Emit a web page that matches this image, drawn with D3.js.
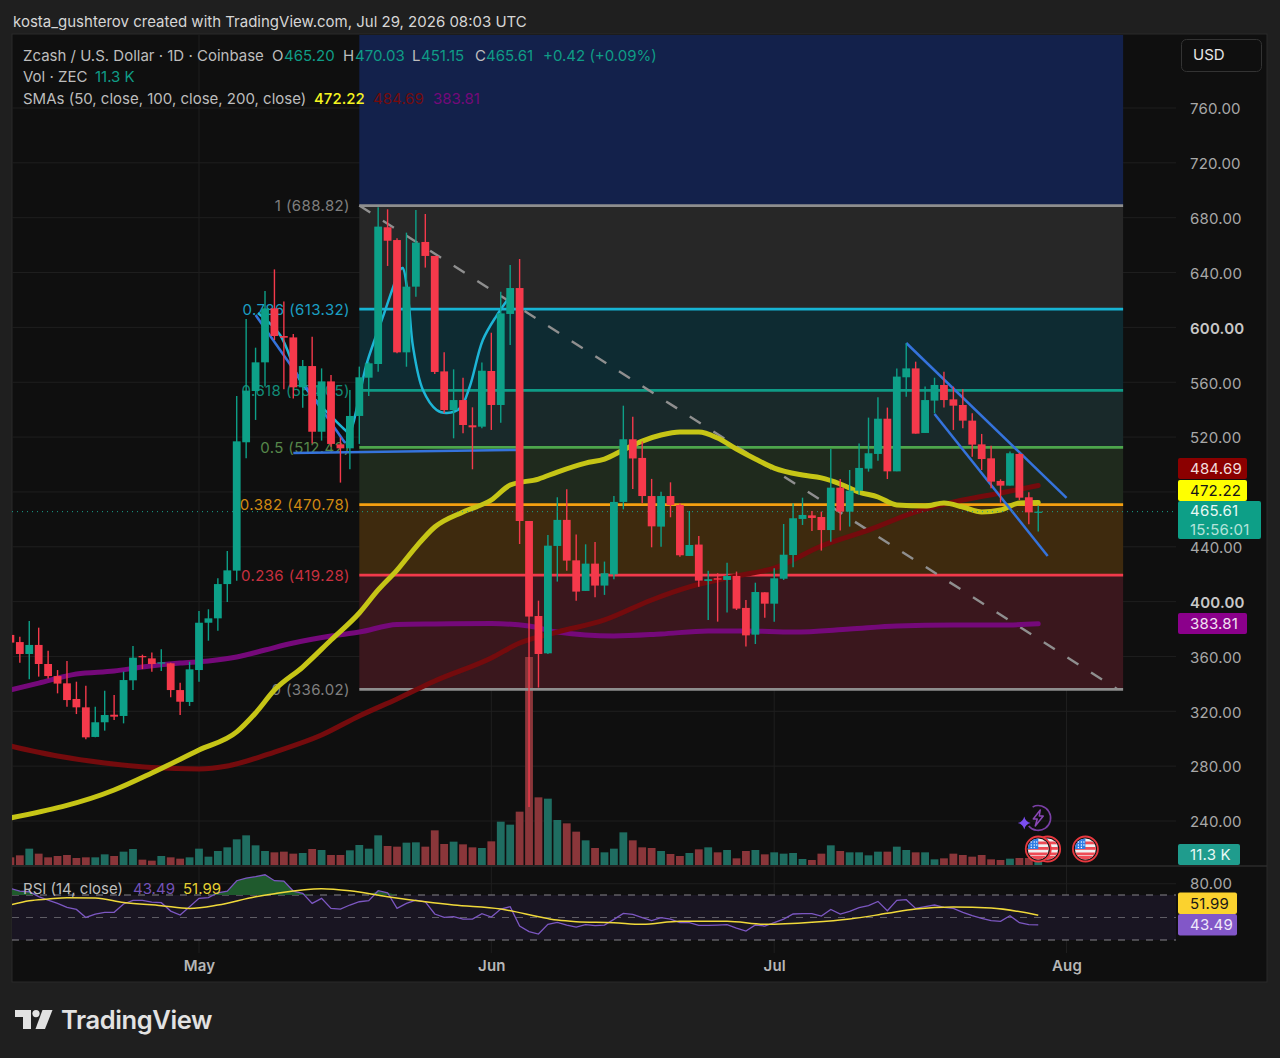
<!DOCTYPE html>
<html>
<head>
<meta charset="utf-8">
<title>Zcash / U.S. Dollar</title>
<script src="https://cdn.jsdelivr.net/npm/d3@7/dist/d3.min.js"></script>
<style>
html,body{margin:0;padding:0;background:#1f1f1f;}
svg{display:block;}
text{font-family:Inter,"Noto Sans",Roboto,sans-serif;}
</style>
</head>
<body>
<svg id="chart" width="1280" height="1058"></svg>
<script>
// Daily ZEC/USD session values, first session 2026-04-11.
const firstSession = Date.UTC(2026, 3, 11);
const opens = [
375.7,370.5,361.8,368.4,354.5,345.7,340.4,329,322.9,301.3,
312,317.5,316.6,342.6,360.3,358.6,355,355,335.5,326.8,
350.1,384.6,387.8,412.8,422.6,516.2,553.6,574.5,613.9,593.7,
592.7,556.3,571.8,523.9,560.6,514.7,511.8,535.4,563.3,573.3,
673,663.7,581.8,629.7,662.3,652.1,567.9,539.7,547,528.6,
527.6,568.2,543.4,609.8,628.7,458.8,389.5,362.3,440.6,459.6,
430.1,407.8,427.7,411.7,419.9,472.7,518.4,504.8,477,454.7,
477,470.5,433.3,441.6,415.1,417,415.8,418.7,395.4,375.9,
406.8,398.5,416.7,434,460.3,462.9,461.7,452.2,483.1,465.6,
480.9,497,507.7,533.4,495,563.6,570.1,523,546.6,558,
547.5,543.4,532,514.7,504.5,488,484.6,507.7,476.1,465.2];
const highs = [
378,374.4,385.9,381,364.2,350.1,356.7,341.6,338.7,323.4,
335,331.9,348.9,367.6,361.3,362.8,365.2,355.5,340.9,356.2,
393.2,394.4,417,436.9,550,606.1,585.2,626.5,642.3,618.8,
595.2,576.2,593.2,570.1,565.3,519.8,554.3,571.4,575,687.6,
686.1,665,669.1,685.6,682.7,652.1,581.8,569.4,563.3,541.7,
574.3,596.1,626,645.5,649.9,458.8,400.7,448.6,476.1,481.9,
448.9,441.8,443.5,429.2,477.1,542.9,534.9,516.7,489.5,480.2,
487,471.7,466.1,447.9,422.6,420.7,428.4,421.9,401.2,413.8,
406.8,424.3,456.6,471.7,475.8,466.1,465.6,511.3,489.4,496,
515.4,534.2,549,541.5,570.1,588.4,575,556.8,563.3,567.7,
556.8,554.8,537.3,522.3,513.7,489.2,509.4,508.6,479.7,470.03];
const lows = [
369,355.5,343.3,345.3,344,333.1,323.4,318,299.6,301,
305.9,313.7,311.2,335.5,350.8,348.9,349.4,330.2,317.3,323.9,
341.6,371.5,378.8,399.7,415.3,504.5,532.5,556.8,590.8,554.8,
548.2,541.4,515.4,517.4,513,486.8,496.5,515,550,567.7,
644.8,581.1,571.3,622.4,643.6,566,537.3,519.1,522.7,496.5,
526.4,525.2,530.5,587.2,442,250.2,337.3,361.8,414.6,422.6,
400.7,407.8,403.2,404.9,416.3,467.3,482.2,471.7,439.6,440.1,
461.5,432.8,433.3,410.9,386.6,385.4,392,393.9,367.2,369.1,
388.3,385.4,415.8,425,455.9,451.5,437.2,443.7,451.8,454.7,
477.8,494.8,502.8,489.4,495,549.5,522.5,523,537.3,541.5,
525.2,526.4,505.7,496,482.6,472.2,484.6,474.1,456.4,451.15];
const closes = [
370.1,361.8,368.4,354.5,345.7,340.2,328.2,322.9,301,312,
317.3,316.1,342.8,359.1,359.4,354.5,355.7,335.5,327,350.6,
384.6,387.8,412.8,422.8,516.9,553.9,574.5,613.9,593.7,592.5,
556.3,571.8,523.9,560.6,515,511.8,535.4,563.6,573.8,673.5,
663.2,581.8,629.7,661.8,652.1,567.5,539.7,547,528.8,527.1,
568.4,543.4,610.2,628.7,458.8,389.1,361.8,440.8,459.6,429.9,
407.3,427.7,411.7,420.7,472.7,518.4,504.4,477,454.9,477,
470.5,433.8,441.3,415.3,416.3,416,418.7,394.9,375.4,407,
398.5,417,434.2,460.8,463.2,461,452.2,483.1,465.6,480.9,
497.5,508.2,533.4,495,564.1,570.1,522.5,547,558,547,
542.9,532,514.5,504,487.5,484.6,508.2,475.8,465.1,465.61];
// Volume in thousands of ZEC.
const volumes = [
23,29,49,34,23,27,30,21,23,23,
32,27,40,48,16,13,27,23,19,23,
49,25,42,53,77,89,59,42,38,40,
34,36,48,45,30,30,44,60,49,89,
57,55,67,68,55,104,63,70,62,53,
51,71,130,121,160,624,203,199,135,125,
100,74,51,38,49,98,74,53,51,42,
33,27,36,47,53,38,45,20,42,45,
32,38,34,36,18,15,34,59,42,38,
38,29,40,40,55,45,38,38,17,20,
34,30,25,30,17,15,19,21,21,11.3];
const rsiValues = [
75.9,73.5,72.9,68.5,65.5,62.6,59,57.2,50.1,53.1,
54.6,54.6,62,65.2,65.2,63.7,63.2,55.7,52.2,59.6,
67,67.6,72,73.5,82.7,85.1,86.3,88,82.7,82.4,
73.5,71.4,62.6,67,58.1,57.5,61.1,64,64.9,73.8,
72,58.1,62.6,65.5,64,53.1,50.1,50.7,48.6,48.6,
53.4,50.4,57.5,59.6,42.4,37.4,35.3,43.9,45.7,43.3,
41.5,43.6,42.7,43.3,48.3,53.7,52.8,49.8,47.2,49.8,
48.6,45.4,45.4,43,43,43.3,43.6,40.6,38,43.3,
42.4,45.4,48.6,53.1,53.4,53.4,51.3,57.2,53.1,55.4,
58.7,60.5,64.3,56,65.2,65.8,58.1,59.6,61.1,59,
58.1,54.6,51.6,49.2,47.2,46.6,51.6,45.4,43.6,43.49];

// Averages as [days since May 1, value] pairs.
const sma50 = [[-20,242.2],[-9,262.6],[-5,275],[0,291.8],[4,305],[6,318.8],[8,335.5],[11,352.3],[14,372],[17,391.7],[19,408.5],[21,423],[23,439.8],[25,454.4],[28,465.4],[31,474.1],[33,485],[36,489.4],[38,494.5],[41,501],[43,504],[45,510.6],[47,517.1],[49,521.5],[51,523.7],[53,523.7],[55,519.3],[57,511.3],[59,504],[61,497.4],[64,492.3],[66,490.2],[68,485.8],[70,479.9],[72,476.3],[74,470.5],[77,469.7],[79,471.9],[81,469],[83,465.4],[85,466.8],[87,471.9],[89,472.22]];
const sma100 = [[-20,294.7],[-15,287.4],[-10,282.3],[-5,279],[0,278],[3,280.1],[8,290.3],[13,302.7],[17,316.6],[21,329],[25,342.1],[31,358.9],[34,369.8],[38,377.8],[43,386.6],[48,401.2],[52,410.7],[57,418.7],[61,424.5],[66,440.6],[71,452.2],[76,465.4],[81,474.1],[85,479.2],[89,484.69]];
const sma200 = [[-20,335.6],[-17,340.6],[-13,347.2],[-9,349.4],[-6,352.3],[-2,355.2],[1,356.7],[4,359.6],[7,364.7],[10,369.8],[14,374.9],[17,377.8],[21,383.3],[25,383.7],[31,384],[35,382.2],[38,377.8],[44,374.9],[49,376.4],[54,378.6],[58,378.6],[63,377.8],[69,380],[74,382.2],[80,382.9],[85,382.9],[89,383.81]];
const rsiAverage = [[-20,61.1],[-18,64.9],[-16,66.4],[-14,67.6],[-11,67.3],[-8,63.4],[-4,60.5],[-1,58.1],[2,61.1],[6,68.5],[8,71.2],[13,75.6],[16,73.8],[20,68.5],[24,64],[27,61.1],[32,57.5],[37,49],[38,47.7],[40,46.3],[44,45.4],[47,43.9],[51,46.6],[56,46.6],[60,43.9],[65,45.7],[69,48.6],[73,53.7],[76,57.5],[80,59.3],[84,58.4],[89,51.99]];

// Hand-drawn annotations, same [day, price] form.
const brushCurve = [[6.25,610.5],[8.6,594.5],[10.7,561.6],[13.15,541.2],[14.4,532.5],[15.5,525.2],[15.9,523],[17.8,574],[19.5,607.6],[20.6,629.5],[21.3,641.9],[21.6,643.3],[22.2,620],[22.7,585.7],[23.75,554.3],[25.2,539.8],[26.3,537.6],[27.7,541.2],[28.7,556.5],[30.1,590.8],[31.6,609],[32.7,620]];
const trendLines = [
  [[6,609],[15.5,515.7]],
  [[10,508.4],[33.8,510.6]],
  [[75,588.6],[92,475.6]],
  [[78,536.8],[90,433.3]]
];
const fibTrend = [[17,688.82],[97.4,336.02]];
const fibStartDay = 17, fibEndDay = 98;
const fibLevels = [
  {ratio:"1", price:688.82, line:"#8e8e8e", text:"#7f7f7f"},
  {ratio:"0.786", price:613.32, line:"#17b4d4", text:"#1b9fc4"},
  {ratio:"0.618", price:554.05, line:"#0f9b86", text:"#128c78"},
  {ratio:"0.5", price:512.42, line:"#4da64c", text:"#56874a"},
  {ratio:"0.382", price:470.78, line:"#f5a010", text:"#d08a12"},
  {ratio:"0.236", price:419.28, line:"#f23a4b", text:"#c8303f"},
  {ratio:"0", price:336.02, line:"#8e8e8e", text:"#7f7f7f"}
];
const fibBands = [
  {top:906.8, bottom:688.82, fill:"#13214b"},
  {top:688.82, bottom:613.32, fill:"#272727"},
  {top:613.32, bottom:554.05, fill:"#0e2b32"},
  {top:554.05, bottom:512.42, fill:"#19292a"},
  {top:512.42, bottom:470.78, fill:"#1f2a1d"},
  {top:470.78, bottom:419.28, fill:"#3e2a0e"},
  {top:419.28, bottom:336.02, fill:"#3a171d"}
];

const priceTicks = [760,720,680,640,600,560,520,480,440,400,360,320,280,240];
const rsiTicks = [80,40];
const rsiBands = [70,50,30];
const monthTicks = [Date.UTC(2026,4,1),Date.UTC(2026,5,1),Date.UTC(2026,6,1),Date.UTC(2026,7,1)];
const monthNames = ["May","Jun","Jul","Aug"];
const priceTags = [
  {text:"484.69", top:458, fill:"#8b0000", ink:"#f2dede"},
  {text:"472.22", top:480, fill:"#ffff00", ink:"#171717"},
  {text:"383.81", top:613, fill:"#8b008b", ink:"#f2e0f2"}
];
const rsiTags = [
  {text:"51.99", top:892.5, fill:"#fbd22e", ink:"#171717"},
  {text:"43.49", top:914, fill:"#8257c8", ink:"#efe8fa"}
];

const UP = "#0da088", DOWN = "#f5394b";
const VOL_UP = "#1f6d61", VOL_DOWN = "#8a363a";
const MS_DAY = 864e5, MAY1 = Date.UTC(2026,4,1);
const toDate = d => new Date(MAY1 + d * MS_DAY);
const sessionDate = i => new Date(firstSession + i * MS_DAY);

const x = d3.scaleUtc().domain([toDate(-20), toDate(104)]).range([10.4, 1179.7]);
const y = d3.scaleLinear().domain([760, 240]).range([108, 821]);
const yVol = d3.scaleLinear().domain([0, 624]).range([865, 657]);
const yRsi = d3.scaleLinear().domain([70, 30]).range([895, 940]);

const svg = d3.select("#chart");
const FONT = 15;
const fx = p => x(toDate(p[0]));

const defs = svg.append("defs");
defs.append("clipPath").attr("id","mainClip").append("rect")
  .attr("x",12).attr("y",35).attr("width",1164).attr("height",831);
defs.append("clipPath").attr("id","rsiClip").append("rect")
  .attr("x",12).attr("y",866).attr("width",1164).attr("height",116);

// Panel frame
svg.append("rect").attr("width",1280).attr("height",1058).attr("fill","#1f1f1f");
svg.append("rect").attr("x",12).attr("y",34).attr("width",1255).attr("height",948)
  .attr("fill","#0f0f0f").attr("stroke","#2b2b2b");

// Grid
const grid = svg.append("g");
grid.selectAll("line.h").data(priceTicks).join("line").attr("class","h")
  .attr("x1",12).attr("x2",1176).attr("y1",d=>y(d)).attr("y2",d=>y(d))
  .attr("stroke","#1f1f1f");
grid.selectAll("line.r").data(rsiTicks).join("line").attr("class","r")
  .attr("x1",12).attr("x2",1176).attr("y1",d=>yRsi(d)).attr("y2",d=>yRsi(d))
  .attr("stroke","#1f1f1f");
grid.selectAll("line.v").data(monthTicks).join("line").attr("class","v")
  .attr("x1",d=>x(d)).attr("x2",d=>x(d)).attr("y1",35).attr("y2",953)
  .attr("stroke","#1f1f1f");

const main = svg.append("g").attr("clip-path","url(#mainClip)");

// Retracement bands and levels
const fibX0 = x(toDate(fibStartDay)), fibX1 = x(toDate(fibEndDay));
main.selectAll("rect.band").data(fibBands).join("rect").attr("class","band")
  .attr("x",fibX0).attr("width",fibX1-fibX0)
  .attr("y",d=>y(d.top)).attr("height",d=>y(d.bottom)-y(d.top))
  .attr("fill",d=>d.fill);

// Volume histogram
main.selectAll("rect.vol").data(volumes).join("rect").attr("class","vol")
  .attr("x",(d,i)=>x(sessionDate(i))-3.9).attr("width",7.8)
  .attr("y",d=>yVol(d)).attr("height",d=>865-yVol(d))
  .attr("fill",(d,i)=>closes[i]>=opens[i]?VOL_UP:VOL_DOWN);

// Level labels sit beneath the candles
main.selectAll("text.fib").data(fibLevels).join("text").attr("class","fib")
  .attr("x",350).attr("y",d=>y(d.price)).attr("dy","0.36em")
  .attr("text-anchor","end").attr("font-size",FONT).attr("letter-spacing","0.4")
  .attr("fill",d=>d.text)
  .text(d=>`${d.ratio} (${d3.format(".2f")(d.price)})`);

main.selectAll("line.fib").data(fibLevels).join("line").attr("class","fib")
  .attr("x1",fibX0).attr("x2",fibX1).attr("y1",d=>y(d.price)).attr("y2",d=>y(d.price))
  .attr("stroke",d=>d.line).attr("stroke-width",2.8);

const lineOf = d3.line().x(fx).y(p=>y(p[1]));
main.append("path").attr("d",lineOf(fibTrend)).attr("fill","none")
  .attr("stroke","#8f8f8f").attr("stroke-width",2.4).attr("stroke-dasharray","13 15");

// Moving averages
const smooth = d3.line().x(fx).y(p=>y(p[1])).curve(d3.curveMonotoneX);
[[sma200,"#75097a"],[sma100,"#740b0d"],[sma50,"#c6c516"]].forEach(([pts,color])=>{
  main.append("path").attr("d",smooth(pts)).attr("fill","none")
    .attr("stroke",color).attr("stroke-width",5).attr("stroke-linecap","round");
});

// Sketched annotations
main.append("path").attr("d",d3.line().x(fx).y(p=>y(p[1])).curve(d3.curveCatmullRom)(brushCurve))
  .attr("fill","none").attr("stroke","#1db5d6").attr("stroke-width",2.5);
main.selectAll("path.trend").data(trendLines).join("path").attr("class","trend")
  .attr("d",lineOf).attr("fill","none").attr("stroke","#3573dc").attr("stroke-width",2.5);

// Last price marker
main.append("line").attr("x1",12).attr("x2",1176)
  .attr("y1",y(closes[closes.length-1])).attr("y2",y(closes[closes.length-1]))
  .attr("stroke","#1a9f8b").attr("stroke-width",1).attr("stroke-dasharray","1 4");

// Candles
const candle = main.selectAll("g.candle").data(closes).join("g").attr("class","candle");
candle.append("line")
  .attr("x1",(d,i)=>x(sessionDate(i))).attr("x2",(d,i)=>x(sessionDate(i)))
  .attr("y1",(d,i)=>y(highs[i])).attr("y2",(d,i)=>y(lows[i]))
  .attr("stroke",(d,i)=>d>=opens[i]?UP:DOWN).attr("stroke-width",1.4);
candle.append("rect")
  .attr("x",(d,i)=>x(sessionDate(i))-3.9).attr("width",7.8)
  .attr("y",(d,i)=>y(Math.max(d,opens[i])))
  .attr("height",(d,i)=>Math.max(1.2,Math.abs(y(d)-y(opens[i]))))
  .attr("fill",(d,i)=>d>=opens[i]?UP:DOWN);

// Pane divider
svg.append("line").attr("x1",12).attr("x2",1267).attr("y1",866).attr("y2",866)
  .attr("stroke","#2b2b2b").attr("stroke-width",1.5);

// RSI pane
const rsiG = svg.append("g").attr("clip-path","url(#rsiClip)");
rsiG.append("rect").attr("x",12).attr("width",1164)
  .attr("y",yRsi(70)).attr("height",yRsi(30)-yRsi(70)).attr("fill","#191522");
rsiG.selectAll("line.band").data(rsiBands).join("line").attr("class","band")
  .attr("x1",12).attr("x2",1176).attr("y1",d=>yRsi(d)).attr("y2",d=>yRsi(d))
  .attr("stroke",(d)=>d===50?"#5e5c64":"#85838a").attr("stroke-width",1.2).attr("stroke-dasharray","7 7");
rsiG.append("path")
  .attr("d",d3.area().x((d,i)=>x(sessionDate(i))).y0(yRsi(70)).y1(d=>yRsi(Math.max(d,70)))(rsiValues))
  .attr("fill","#1f5a2d");
rsiG.append("path").attr("d",d3.line().x((d,i)=>x(sessionDate(i))).y(d=>yRsi(d))(rsiValues))
  .attr("fill","none").attr("stroke","#7c57c2").attr("stroke-width",1.3);
rsiG.append("path").attr("d",d3.line().x(fx).y(p=>yRsi(p[1])).curve(d3.curveMonotoneX)(rsiAverage))
  .attr("fill","none").attr("stroke","#f0d93a").attr("stroke-width",1.5);

// Axes
const styleAxis = g => {
  g.select(".domain").remove();
  g.selectAll(".tick line").remove();
  g.selectAll("text").attr("font-size",FONT).attr("letter-spacing","0.2")
    .attr("font-family","Inter,'Noto Sans',sans-serif");
};
const priceAxis = svg.append("g").attr("transform","translate(1190,1)")
  .call(d3.axisRight(y).tickValues(priceTicks).tickFormat(d3.format(".2f")).tickSize(0).tickPadding(0))
  .call(styleAxis);
priceAxis.selectAll("text").attr("fill",d=>(d===600||d===400)?"#c8c8c8":"#a8a8a8")
  .attr("font-weight",d=>(d===600||d===400)?600:400);
svg.append("g").attr("transform","translate(1190,0)")
  .call(d3.axisRight(yRsi).tickValues([80]).tickFormat(d3.format(".2f")).tickSize(0).tickPadding(0))
  .call(styleAxis)
  .selectAll("text").attr("fill","#a8a8a8");
const timeAxis = svg.append("g").attr("transform","translate(0,969)")
  .call(d3.axisBottom(x).tickValues(monthTicks).tickFormat((d,i)=>monthNames[i]).tickSize(0).tickPadding(0))
  .call(styleAxis);
timeAxis.selectAll("text").attr("dy","0.1em").attr("fill","#b6b6b6").attr("font-weight",600);

// Price scale tags, stacked so they stay readable
const tag = (x0,y0,w,h,fill,lines,ink) => {
  svg.append("rect").attr("x",x0).attr("y",y0).attr("width",w).attr("height",h)
    .attr("rx",2).attr("fill",fill);
  lines.forEach((l,i)=>{
    svg.append("text").attr("x",1190).attr("y",y0+(h/lines.length)*(i+0.5)).attr("dy","0.36em")
      .attr("font-size",FONT).attr("letter-spacing","0.2").attr("fill",l.ink||ink).text(l.text);
  });
};
priceTags.forEach(t=>tag(1178,t.top,69,21,t.fill,[{text:t.text}],t.ink));
tag(1178,501,83,38,"#0d9f87",[{text:"465.61"},{text:"15:56:01",ink:"#b5e3da"}],"#e8f8f4");
tag(1178,844,62,21,"#1f9c8d",[{text:"11.3 K"}],"#e8f8f4");
rsiTags.forEach(t=>tag(1178,t.top,59,21.4,t.fill,[{text:t.text}],t.ink));

// Currency selector
svg.append("rect").attr("x",1181.5).attr("y",39.5).attr("width",80).attr("height",32)
  .attr("rx",5).attr("fill","#0f0f0f").attr("stroke","#333");
svg.append("text").attr("x",1193).attr("y",55).attr("dy","0.36em").attr("font-size",FONT)
  .attr("fill","#e6e6e6").text("USD");

// Legend text
const label = (tx,ty,str,fill,weight) => svg.append("text").attr("x",tx).attr("y",ty)
  .attr("dy","0.36em").attr("font-size",FONT).attr("fill",fill)
  .attr("font-weight",weight||400).text(str);
label(13,22,"kosta_gushterov created with TradingView.com, Jul 29, 2026 08:03 UTC","#d6d6d6");
const GREY="#bdbdbd", TEAL="#0f9c86";
label(23,56,"Zcash / U.S. Dollar · 1D · Coinbase",GREY);
label(272,56,"O",GREY); label(284,56,"465.20",TEAL);
label(343,56,"H",GREY); label(355,56,"470.03",TEAL);
label(412,56,"L",GREY); label(421,56,"451.15",TEAL);
label(475,56,"C",GREY); label(486,56,"465.61",TEAL);
label(543,56,"+0.42 (+0.09%)",TEAL);
label(23,77,"Vol · ZEC",GREY); label(95,77,"11.3 K",TEAL);
label(23,99,"SMAs (50, close, 100, close, 200, close)",GREY);
label(314,99,"472.22","#f5f520",500);
label(373,99,"484.69","#740b0d");
label(433,99,"383.81","#75097a");
label(23,889,"RSI (14, close)",GREY);
label(133,889,"43.49","#7452b8");
label(183,889,"51.99","#e6d033");

// Event markers
const addFlag = (day,idx) => {
  const cx = x(toDate(day)), cy = 849;
  const id = `flag${idx}`;
  defs.append("clipPath").attr("id",id).append("circle").attr("cx",cx).attr("cy",cy).attr("r",10.5);
  const g = svg.append("g");
  g.append("circle").attr("cx",cx).attr("cy",cy).attr("r",12.5)
    .attr("fill","#141414").attr("stroke","#e8383f").attr("stroke-width",1.8);
  const f = g.append("g").attr("clip-path",`url(#${id})`);
  f.append("rect").attr("x",cx-11).attr("y",cy-11).attr("width",22).attr("height",22).attr("fill","#f0f0f0");
  [-7.5,-2,3.5,7].forEach(o=>f.append("rect").attr("x",cx-11).attr("y",cy+o)
    .attr("width",22).attr("height",o===7?5:2.8).attr("fill","#ee4b55"));
  f.append("rect").attr("x",cx-11).attr("y",cy-11).attr("width",11).attr("height",11).attr("fill","#2f7fe6");
  [[-7,-7],[-4,-7],[-7,-4],[-4,-4],[-1.5,-7],[-1.5,-4],[-7,-1.5],[-4,-1.5]].forEach(o=>
    f.append("circle").attr("cx",cx+o[0]).attr("cy",cy+o[1]).attr("r",0.7).attr("fill","#fff"));
};
[90,94,89].forEach((d,i)=>addFlag(d,i));

const eventX = x(toDate(89));
const bolt = svg.append("g").attr("transform",`translate(${eventX},818)`);
bolt.append("path").attr("d",d3.arc().innerRadius(11.6).outerRadius(13.2).startAngle(-0.15*Math.PI).endAngle(1.28*Math.PI)())
  .attr("fill","#7a3fa5");
bolt.append("path").attr("d","M2 -8 L-5 1 L-1 1 L-3 8 L5 -2 L1 -2 Z").attr("fill","none")
  .attr("stroke","#8a47b5").attr("stroke-width",1.5).attr("stroke-linejoin","round");
svg.append("path").attr("transform",`translate(${eventX-14},823)`)
  .attr("d","M0 -6.5 Q1.2 -1.2 6.5 0 Q1.2 1.2 0 6.5 Q-1.2 1.2 -6.5 0 Q-1.2 -1.2 0 -6.5 Z")
  .attr("fill","#7a4df0");

// Brand mark
const brand = svg.append("g").attr("fill","#e2e2e2");
brand.append("path").attr("d","M15 1010 H31 V1029 H23 V1017 H15 Z");
brand.append("circle").attr("cx",36).attr("cy",1013.6).attr("r",3.6);
brand.append("path").attr("d","M42.5 1010 H52.5 L45 1029 H35.5 Z");
svg.append("text").attr("x",61).attr("y",1020).attr("dy","0.36em")
  .attr("font-size",25.5).attr("font-weight",600).attr("letter-spacing","-0.4")
  .attr("fill","#e2e2e2").text("TradingView");
</script>
</body>
</html>
